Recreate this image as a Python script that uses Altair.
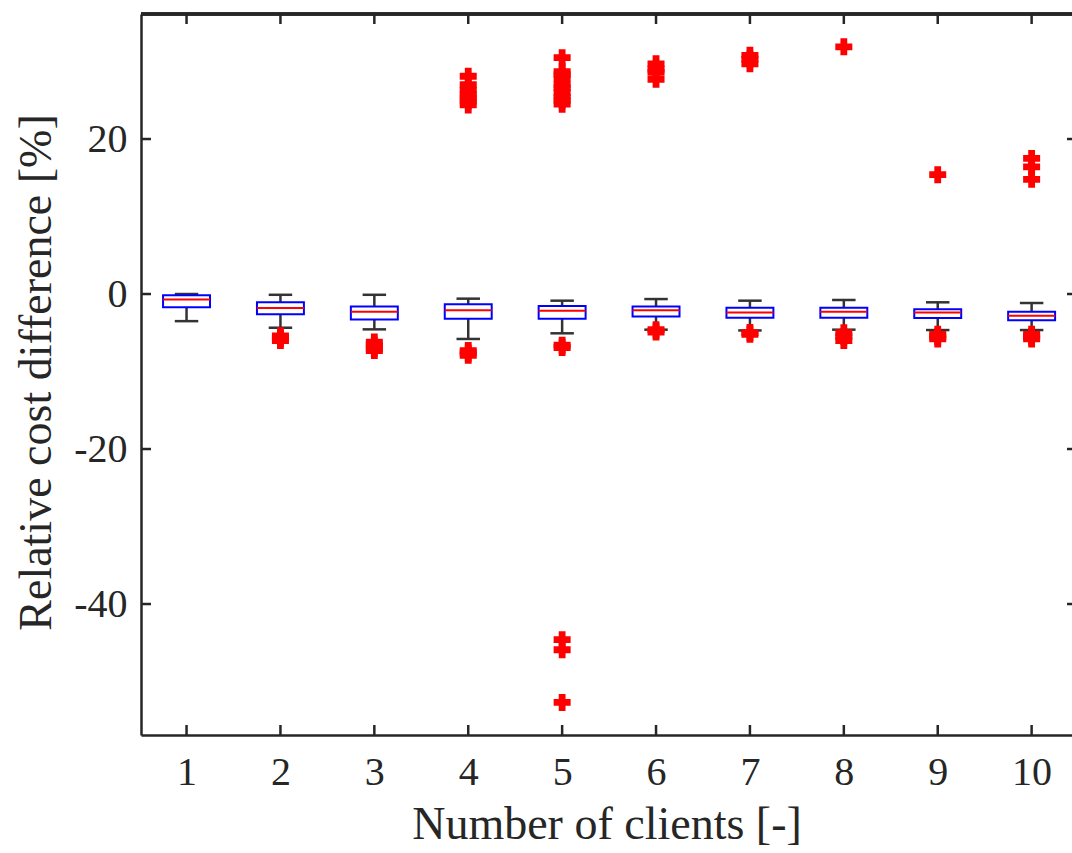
import altair as alt
import pandas as pd

# ---- data ----
groups = [1, 2, 3, 4, 5, 6, 7, 8, 9, 10]
whisk_hi = [0.0, -0.1, -0.1, -0.6, -0.86, -0.65, -0.86, -0.77, -1.07, -1.16]
q3 = [-0.17, -1.07, -1.6, -1.33, -1.55, -1.6, -1.76, -1.76, -1.98, -2.28]
median = [-0.7, -1.8, -2.3, -2.1, -2.15, -2.1, -2.4, -2.28, -2.4, -2.8]
q1 = [-1.7, -2.6, -3.3, -3.2, -3.2, -2.9, -3.05, -3.05, -3.1, -3.4]
whisk_lo = [-3.5, -4.35, -4.56, -5.8, -5.07, -4.6, -4.7, -4.6, -4.65, -4.65]

outliers = {
    1: [],
    2: [-5.4, -5.7, -6.0],
    3: [-6.2, -6.6, -7.0, -7.3],
    4: [-7.3, -7.6, -7.9, 24.4, 24.9, 25.3, 25.8, 26.3, 27.0, 28.1],
    5: [-6.6, -6.9, -44.6, -45.9, -52.7, 24.5, 25.0, 25.4, 26.0, 26.6,
        27.0, 27.8, 28.3, 28.7, 30.5],
    6: [-4.6, -4.9, 27.7, 28.6, 29.0, 29.7],
    7: [-4.97, -5.2, 29.7, 30.3, 30.8],
    8: [-5.0, -5.5, -6.0, 31.9],
    9: [-5.2, -5.5, -5.8, 15.4],
    10: [-5.2, -5.5, -5.8, 14.8, 16.4, 17.5],
}

x_ticks = [1, 2, 3, 4, 5, 6, 7, 8, 9, 10]
y_ticks = [-40, -20, 0, 20]

# ---- layout ----
W, H = 931, 721
FONT = "Liberation Serif"
INK = "#262626"

box_df = pd.DataFrame({"g": groups, "whi": whisk_hi, "q3": q3, "med": median,
                       "q1": q1, "wlo": whisk_lo})
out_df = pd.DataFrame([{"g": g, "v": v} for g in groups for v in outliers[g]])
xt_df = pd.DataFrame({"t": x_ticks})
yt_df = pd.DataFrame({"t": y_ticks})

xs = alt.Scale(domain=[0.515, 10.43], nice=False, zero=False)
ys = alt.Scale(domain=[-56.9, 36.13], nice=False, zero=False)

xaxis = alt.Axis(values=x_ticks, title="Number of clients [-]", ticks=False,
                 grid=False, labelFontSize=40, labelPadding=17, labelFont=FONT,
                 labelColor=INK, titleFont=FONT, titleFontSize=46,
                 titleFontWeight="normal", titleColor=INK, titleY=103,
                 titleBaseline="alphabetic", domainColor=INK, domainWidth=2.5,
                 labelFlush=False, labelOverlap=False)
yaxis = alt.Axis(values=y_ticks, title="Relative cost difference [%]", ticks=False,
                 grid=False, labelFontSize=40, labelPadding=14, labelFont=FONT,
                 labelColor=INK, titleFont=FONT, titleFontSize=46,
                 titleFontWeight="normal", titleColor=INK, titleX=-91, titleY=358,
                 titleBaseline="alphabetic", domainColor=INK, domainWidth=2.5,
                 labelFlush=False, labelOverlap=False,
                 labelExpr="datum.value < 0 ? '-' + abs(datum.value) : '' + datum.value")


def X(f):
    return alt.X(f, type="quantitative", scale=xs, axis=xaxis)


def Y(f):
    return alt.Y(f, type="quantitative", scale=ys, axis=yaxis)


base = alt.Chart(box_df).transform_calculate(
    left="datum.g - 0.25", right="datum.g + 0.25",
    capl="datum.g - 0.125", capr="datum.g + 0.125")

whisk_up = base.mark_rule(color="#333333", strokeWidth=2.5).encode(
    x=X("g"), y=Y("q3"), y2="whi")
whisk_dn = base.mark_rule(color="#333333", strokeWidth=2.5).encode(
    x=X("g"), y=Y("wlo"), y2="q1")
cap_up = base.mark_rule(color="#333333", strokeWidth=2.5).encode(
    x=X("capl"), x2="capr", y=Y("whi"))
cap_dn = base.mark_rule(color="#333333", strokeWidth=2.5).encode(
    x=X("capl"), x2="capr", y=Y("wlo"))
boxes = base.mark_rect(fill="white", stroke="#0000ff", strokeWidth=2).encode(
    x=X("left"), x2="right", y=Y("q1"), y2="q3")
meds = base.mark_rule(color="#ff0000", strokeWidth=2).encode(
    x=X("left"), x2="right", y=Y("med"))

pts = alt.Chart(out_df).mark_point(shape="cross", filled=True, color="#ff0000",
                                   size=289, opacity=1, strokeWidth=0).encode(
    x=X("g"), y=Y("v"))

tick_style = dict(color=INK, strokeWidth=2.5)
xt_bot = alt.Chart(xt_df).mark_rule(**tick_style).encode(
    x=X("t"), y=alt.value(H), y2=alt.value(H - 10))
xt_top = alt.Chart(xt_df).mark_rule(**tick_style).encode(
    x=X("t"), y=alt.value(0), y2=alt.value(10))
yt_left = alt.Chart(yt_df).mark_rule(**tick_style).encode(
    y=Y("t"), x=alt.value(0), x2=alt.value(10))
yt_right = alt.Chart(yt_df).mark_rule(**tick_style).encode(
    y=Y("t"), x=alt.value(W - 5), x2=alt.value(W))
top_border = alt.Chart(xt_df).mark_rule(**tick_style).encode(
    x=alt.value(0), x2=alt.value(W), y=alt.value(0))

chart = alt.layer(
    whisk_up, whisk_dn, cap_up, cap_dn, boxes, meds, pts,
    xt_bot, xt_top, yt_left, yt_right, top_border
).properties(
    width=W, height=H,
    autosize=alt.AutoSizeParams(type="none"),
    padding={"left": 141, "top": 14, "right": 0, "bottom": 118},
).configure_view(stroke=None).configure(background="white")

chart.save("out.html", embed_options={"renderer": "svg", "actions": False})
